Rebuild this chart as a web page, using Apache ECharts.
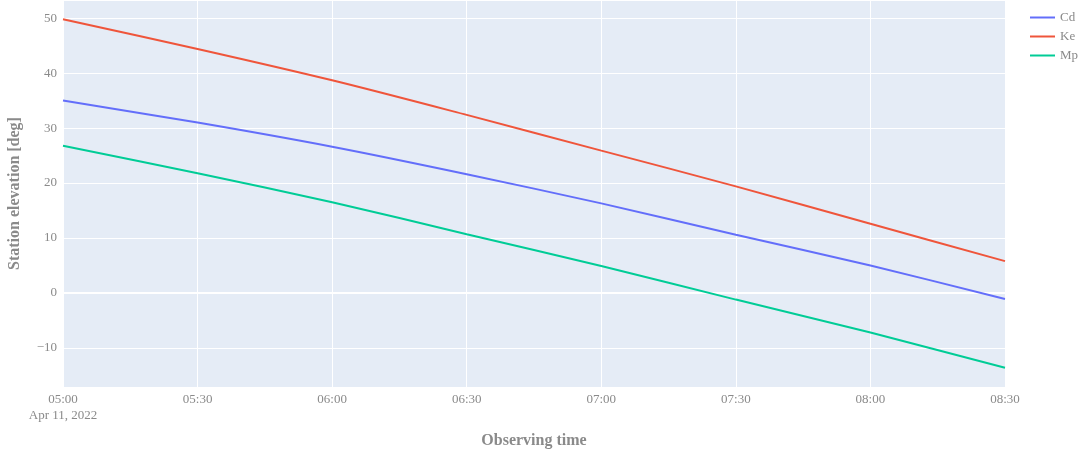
<!DOCTYPE html>
<html>
<head>
<meta charset="utf-8">
<script src="https://cdn.jsdelivr.net/npm/echarts@6/dist/echarts.min.js"></script>
<style>
html,body{margin:0;padding:0;background:#fff;}
#chart{width:1087px;height:453px;}
</style>
</head>
<body>
<div id="chart"></div>
<script>
// Observing times (UTC), Apr 11, 2022
const times = ['05:00','05:30','06:00','06:30','07:00','07:30','08:00','08:30'];
const cdValues = [35.0, 31.0, 26.6, 21.6, 16.3, 10.6, 5.0, -1.1];
const keValues = [49.8, 44.4, 38.7, 32.4, 25.9, 19.4, 12.6, 5.8];
const mpValues = [26.8, 21.8, 16.5, 10.7, 4.9, -1.2, -7.2, -13.6];
const seriesNames = ['Cd', 'Ke', 'Mp'];
const seriesColors = ['#636EFA', '#EF553B', '#00CC96'];
const yTicks = [-10, 0, 10, 20, 30, 40, 50];
const dateLabel = 'Apr 11, 2022';

function toTs(hhmm){
  const p = hhmm.split(':');
  return Date.UTC(2022, 3, 11, +p[0], +p[1]);
}
const xs = times.map(toTs);
const pairs = v => xs.map((x, i) => [x, v[i]]);
const allValues = [cdValues, keValues, mpValues];

const FONT = '"Liberation Serif", "DejaVu Serif", serif';
const GRAY = '#8a8a8a';
const HALF_HOUR = 30 * 60 * 1000;

const chart = echarts.init(document.getElementById('chart'), null, {renderer: 'canvas'});
chart.setOption({
  backgroundColor: '#fff',
  animation: false,
  grid: {left: 63, right: 82, top: 0, bottom: 66, show: true, backgroundColor: '#E5ECF6', borderWidth: 0,
         containLabel: false, outerBoundsMode: 'none'},
  legend: {
    left: 1025, top: 6, orient: 'vertical', itemGap: 6,
    itemWidth: 25, itemHeight: 14, icon: 'path://M0,6L25,6L25,8L0,8Z',
    textStyle: {fontFamily: FONT, fontSize: 13, color: GRAY},
    data: seriesNames
  },
  xAxis: {
    type: 'value',
    min: xs[0], max: xs[xs.length - 1], interval: HALF_HOUR,
    axisLine: {show: false}, axisTick: {show: false},
    splitLine: {show: true, lineStyle: {color: '#fff', width: 1}},
    axisLabel: {
      margin: 5, fontFamily: FONT, fontSize: 13, color: GRAY, lineHeight: 16,
      formatter: function(v){
        const d = new Date(v);
        const s = String(d.getUTCHours()).padStart(2,'0') + ':' + String(d.getUTCMinutes()).padStart(2,'0');
        return v === xs[0] ? s + '\n' + dateLabel : s;
      }
    },
    name: 'Observing time', nameLocation: 'middle', nameGap: 46,
    nameTextStyle: {fontFamily: FONT, fontSize: 16, fontWeight: 'bold', color: GRAY}
  },
  yAxis: {
    type: 'value',
    min: -17.1, max: 53.3,
    splitNumber: 7,
    axisLine: {show: false}, axisTick: {show: false},
    splitLine: {show: true, lineStyle: {color: '#fff', width: 1}},
    axisLabel: {
      margin: 6, fontFamily: FONT, fontSize: 13, color: GRAY,
      showMinLabel: false, showMaxLabel: false,
      formatter: function(v){
        const r = Math.round(v);
        if (Math.abs(v - r) > 1e-6 || yTicks.indexOf(r) < 0) return '';
        return r < 0 ? '\u2212' + Math.abs(r) : String(r);
      }
    },
    name: 'Station elevation [deg]', nameLocation: 'middle', nameGap: 40, nameRotate: 90,
    nameTextStyle: {fontFamily: FONT, fontSize: 16, fontWeight: 'bold', color: GRAY}
  },
  series: [
    {
      type: 'line', name: '_zero', data: [], z: 1, silent: true,
      markLine: {silent: true, symbol: 'none', label: {show: false},
        lineStyle: {color: '#fff', width: 2, type: 'solid'}, data: [{yAxis: 0}]}
    }
  ].concat(seriesNames.map((n, i) => ({
    type: 'line', name: n, data: pairs(allValues[i]), zlevel: 1, z: 3,
    showSymbol: false, smooth: 0.3,
    lineStyle: {color: seriesColors[i], width: 2}, itemStyle: {color: seriesColors[i]}
  })))
});
</script>
</body>
</html>
